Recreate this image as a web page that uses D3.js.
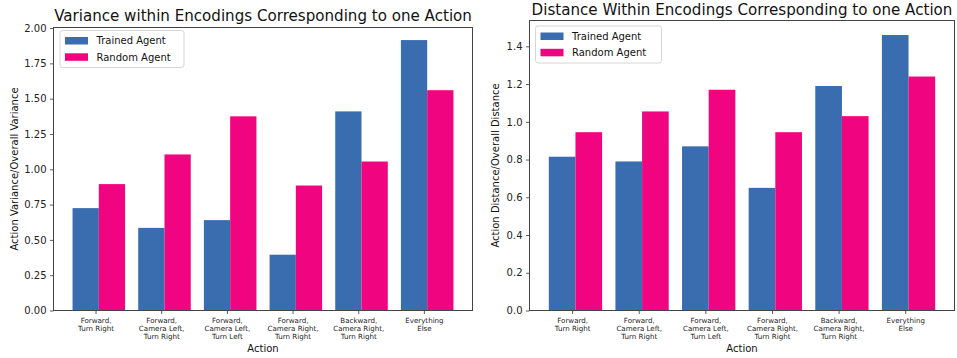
<!DOCTYPE html>
<html>
<head>
<meta charset="utf-8">
<script src="https://cdn.jsdelivr.net/npm/d3@7"></script>
<style>
  html, body { margin: 0; padding: 0; background: #fff; }
  svg { display: block; font-family: "DejaVu Sans", sans-serif; }
</style>
</head>
<body>
<svg id="chart" width="957" height="358"></svg>
<script>
// Action categories (multi-line tick labels)
const actions = [
  ["Forward,", "Turn Right"],
  ["Forward,", "Camera Left,", "Turn Right"],
  ["Forward,", "Camera Left,", "Turn Left"],
  ["Forward,", "Camera Right,", "Turn Right"],
  ["Backward,", "Camera Right,", "Turn Right"],
  ["Everything", "Else"]
];
const seriesNames = ["Trained Agent", "Random Agent"];

// Variance ratio per action
const varianceTrained = [0.725, 0.585, 0.64, 0.395, 1.41, 1.915];
const varianceRandom  = [0.895, 1.105, 1.375, 0.885, 1.055, 1.56];
const varianceTicks   = [0, 0.25, 0.5, 0.75, 1.0, 1.25, 1.5, 1.75, 2.0];

// Distance ratio per action
const distanceTrained = [0.815, 0.79, 0.87, 0.65, 1.19, 1.46];
const distanceRandom  = [0.945, 1.055, 1.17, 0.945, 1.03, 1.24];
const distanceTicks   = [0, 0.2, 0.4, 0.6, 0.8, 1.0, 1.2, 1.4];

const colors = ["#3a6cb0", "#f0047f"];
const svg = d3.select("#chart");

function drawPanel(opts) {
  const { left, right, top, bottom, yMax, ticks, fmt, trained, random,
          title, titleY, yLabel, yLabelX, legend } = opts;
  const barW = 0.4;
  const x = d3.scaleLinear().domain([-0.49, 5.89]).range([left, right]);
  const y = d3.scaleLinear().domain([0, yMax]).range([bottom, top]);
  const g = svg.append("g");

  // bars
  [trained, random].forEach((vals, s) => {
    g.selectAll(null).data(vals).enter().append("rect")
      .attr("x", (d, i) => x(i + s * barW - barW / 2))
      .attr("width", x(barW) - x(0))
      .attr("y", d => y(d))
      .attr("height", d => y(0) - y(d))
      .attr("fill", colors[s]);
  });

  // y axis
  const yAxis = d3.axisLeft(y).tickValues(ticks).tickFormat(d3.format(fmt))
    .tickSize(3.5).tickPadding(3.5);
  const ya = g.append("g").attr("transform", `translate(${left},0)`).call(yAxis);
  ya.select(".domain").remove();
  ya.selectAll(".tick line").attr("stroke", "#333").attr("stroke-width", 0.8);
  ya.selectAll(".tick text").attr("font-size", 10).attr("fill", "#222")
    .attr("font-family", "DejaVu Sans, sans-serif");

  // x axis with multi-line labels
  const tickPos = actions.map((a, i) => i + 0.15);
  const xAxis = d3.axisBottom(x).tickValues(tickPos).tickFormat("")
    .tickSize(3.5).tickPadding(2);
  const xa = g.append("g").attr("transform", `translate(0,${bottom})`).call(xAxis);
  xa.select(".domain").remove();
  xa.selectAll(".tick line").attr("stroke", "#333").attr("stroke-width", 0.8);
  xa.selectAll(".tick").each(function(d, i) {
    const t = d3.select(this).append("text")
      .attr("text-anchor", "middle").attr("font-size", 7.1).attr("fill", "#222")
      .attr("font-family", "DejaVu Sans, sans-serif");
    actions[i].forEach((line, k) => {
      t.append("tspan").attr("x", 0).attr("y", 12.5 + k * 8.1).text(line);
    });
  });

  // frame
  g.append("rect").attr("x", left).attr("y", top)
    .attr("width", right - left).attr("height", bottom - top)
    .attr("fill", "none").attr("stroke", "#444").attr("stroke-width", 1);

  // titles and labels
  g.append("text").attr("x", (left + right) / 2).attr("y", titleY)
    .attr("text-anchor", "middle").attr("font-size", 15.1).attr("fill", "#111")
    .text(title);
  g.append("text").attr("x", (left + right) / 2).attr("y", 352)
    .attr("text-anchor", "middle").attr("font-size", 10).attr("fill", "#111")
    .text("Action");
  g.append("text")
    .attr("transform", `translate(${yLabelX},${(top + bottom) / 2}) rotate(-90)`)
    .attr("text-anchor", "middle").attr("font-size", 10).attr("fill", "#111")
    .text(yLabel);

  // legend
  const lg = g.append("g").attr("transform", `translate(${legend.x},${legend.y})`);
  lg.append("rect").attr("width", legend.w).attr("height", 37).attr("rx", 2.5)
    .attr("fill", "#fff").attr("fill-opacity", 0.8)
    .attr("stroke", "#ccc").attr("stroke-width", 0.8);
  seriesNames.forEach((name, s) => {
    lg.append("rect").attr("x", 5).attr("y", 6.5 + s * 16.3)
      .attr("width", 23).attr("height", 7.5).attr("fill", colors[s]);
    lg.append("text").attr("x", 36.5).attr("y", 13.8 + s * 16.3)
      .attr("font-size", 10).attr("fill", "#111").text(name);
  });
}

drawPanel({
  left: 53.5, right: 472.5, top: 27.5, bottom: 310.5,
  yMax: 2.004, ticks: varianceTicks, fmt: ".2f",
  trained: varianceTrained, random: varianceRandom,
  title: "Variance within Encodings Corresponding to one Action", titleY: 21,
  yLabel: "Action Variance/Overall Variance", yLabelX: 18,
  legend: { x: 60, y: 30.5, w: 124 }
});

drawPanel({
  left: 529.5, right: 954.5, top: 20.5, bottom: 310.5,
  yMax: 1.537, ticks: distanceTicks, fmt: ".1f",
  trained: distanceTrained, random: distanceRandom,
  title: "Distance Within Encodings Corresponding to one Action", titleY: 15,
  yLabel: "Action Distance/Overall Distance", yLabelX: 499,
  legend: { x: 535.5, y: 26, w: 126 }
});
</script>
</body>
</html>
